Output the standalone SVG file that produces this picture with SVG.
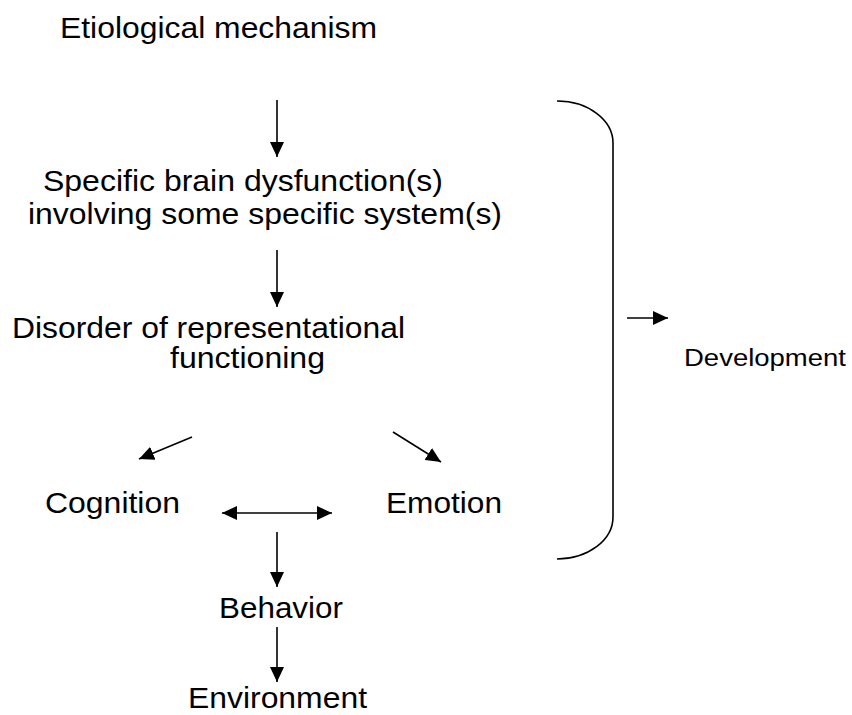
<svg xmlns="http://www.w3.org/2000/svg" width="852" height="715" viewBox="0 0 852 715">
<defs>
<marker id="ah" viewBox="0 0 15 14" refX="15" refY="7" markerWidth="15" markerHeight="14" markerUnits="userSpaceOnUse" orient="auto-start-reverse">
<path d="M0,0 L15,7 L0,14 Z" fill="#000"/>
</marker>
<style>
.t{font-family:"Liberation Sans",Arial,sans-serif;font-size:30px;fill:#000}
.s{font-family:"Liberation Sans",Arial,sans-serif;font-size:23px;fill:#000}
.c{stroke:#000;stroke-width:1.6;fill:none}
</style>
</defs>
<rect width="852" height="715" fill="#fff"/>
<g id="etiology"><text class="t" x="60" y="38" textLength="317" lengthAdjust="spacingAndGlyphs">Etiological mechanism</text></g>
<g id="brain">
<text class="t" x="43" y="191" textLength="400" lengthAdjust="spacingAndGlyphs">Specific brain dysfunction(s)</text>
<text class="t" x="28" y="224" textLength="474" lengthAdjust="spacingAndGlyphs">involving some specific system(s)</text>
</g>
<g id="disorder">
<text class="t" x="12" y="338" textLength="393" lengthAdjust="spacingAndGlyphs">Disorder of representational</text>
<text class="t" x="170" y="368" textLength="155" lengthAdjust="spacingAndGlyphs">functioning</text>
</g>
<g id="cognition"><text class="t" x="45" y="513" textLength="135" lengthAdjust="spacingAndGlyphs">Cognition</text></g>
<g id="emotion"><text class="t" x="386" y="513" textLength="116" lengthAdjust="spacingAndGlyphs">Emotion</text></g>
<g id="behavior"><text class="t" x="219" y="618" textLength="124" lengthAdjust="spacingAndGlyphs">Behavior</text></g>
<g id="environment"><text class="t" x="188" y="708" textLength="179" lengthAdjust="spacingAndGlyphs">Environment</text></g>
<g id="development"><text class="s" x="684" y="366" textLength="162" lengthAdjust="spacingAndGlyphs">Development</text></g>
<g id="bracket"><path class="c" d="M557,101 A56,42 0 0 1 613,143 L613,517 A56,42 0 0 1 557,559"/></g>
<g id="connectors">
<line class="c" x1="277" y1="100" x2="277" y2="157" marker-end="url(#ah)"/>
<line class="c" x1="277" y1="250" x2="277" y2="307" marker-end="url(#ah)"/>
<line class="c" x1="192" y1="437" x2="139" y2="459" marker-end="url(#ah)"/>
<line class="c" x1="393" y1="432" x2="441" y2="462" marker-end="url(#ah)"/>
<line class="c" x1="222" y1="513" x2="332" y2="513" marker-start="url(#ah)" marker-end="url(#ah)"/>
<line class="c" x1="277" y1="532" x2="277" y2="587" marker-end="url(#ah)"/>
<line class="c" x1="277" y1="627" x2="277" y2="682" marker-end="url(#ah)"/>
<line class="c" x1="627" y1="318" x2="668" y2="318" marker-end="url(#ah)"/>
</g>
</svg>
